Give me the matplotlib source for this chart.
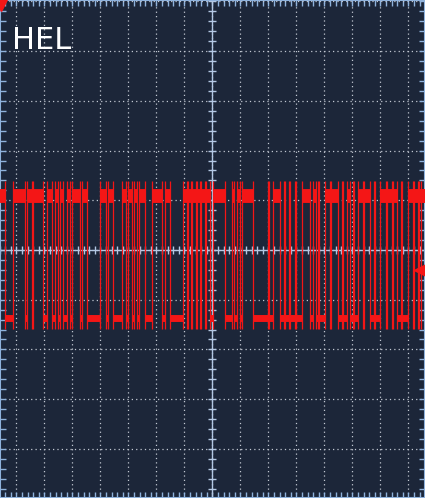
import numpy as np
import matplotlib
matplotlib.use("Agg")
import matplotlib.pyplot as plt
from matplotlib.ticker import MultipleLocator, NullFormatter

# trace: edge times (sample units, 28 per division, centre at 212.5) and state after edge
edge_times = [0, 5, 13, 25, 27, 32, 33, 43, 47, 52, 55, 58, 60, 63, 67, 70, 72, 80, 82, 87,
              100, 106, 108, 113, 122, 126, 128, 132, 134, 137, 139, 145, 152, 162, 165, 170,
              183, 187, 188, 191, 192, 196, 197, 200, 201, 205, 206, 210,
              213, 225, 232, 234, 237, 240, 242, 253, 268, 269, 273, 280, 284, 285, 289, 290,
              295, 296, 302, 310, 313, 316,
              318, 319, 325, 330, 331, 338, 342, 343, 347, 350, 353, 354, 358, 363, 364, 370,
              374, 375, 380, 386, 387, 392, 393, 397, 401, 402, 408, 413, 414, 418, 419, 421]
edge_states = [1, 0, 1, 0, 1, 0, 1, 0, 1, 0, 1, 0, 1, 0, 1, 0, 1, 0, 1, 0,
               1, 0, 1, 0, 1, 0, 1, 0, 1, 0, 1, 0, 1, 0, 1, 0,
               1, 0, 1, 0, 1, 0, 1, 0, 1, 0, 1, 0,
               1, 0, 1, 0, 1, 0, 1, 0, 1, 0, 1, 0, 1, 0, 1, 0,
               1, 0, 1, 0, 1, 0,
               1, 0, 1, 0, 1, 0, 1, 0, 1, 0, 1, 0, 1, 0, 1, 0,
               1, 0, 1, 0, 1, 0, 1, 0, 1, 0, 1, 0, 1, 0, 1, 1]
t_end = 425

high_level = 1.09     # divisions
low_level = -1.36
spike_top = 1.38
spike_bottom = -1.59
marker_level = -0.40  # channel level marker on the right

label = "HEL"

bg = "#1c2639"
red = "#f41616"
frame = "#8fb2dc"
grid_c = "#c2c8d2"

fig = plt.figure(figsize=(4.25, 4.98), dpi=100)
fig.patch.set_facecolor(bg)
ax = fig.add_axes([0, 0, 1, 1])
ax.set_facecolor(bg)
ax.set_xlim(0, 425)
ax.set_ylim(-4.99, 5.03)

# grid
ax.xaxis.set_major_locator(MultipleLocator(28, offset=212.5 % 28))
ax.yaxis.set_major_locator(MultipleLocator(1))
ax.xaxis.set_minor_locator(MultipleLocator(28 / 5, offset=212.5 % (28 / 5)))
ax.yaxis.set_minor_locator(MultipleLocator(0.2))
ax.grid(which="major", color=grid_c, linestyle=(0, (1, 2.5)), linewidth=0.9)
ax.tick_params(which="both", direction="in", colors=frame, length=4, width=1,
               top=True, right=True, bottom=True, left=True)
ax.xaxis.set_major_formatter(NullFormatter())
ax.yaxis.set_major_formatter(NullFormatter())
for s in ax.spines.values():
    s.set_color(frame)
    s.set_linewidth(1.5)

# centre crosshair with small ticks
ax.axvline(212.5, color="#b4c8e4", lw=1, zorder=2)
ax.axhline(0, color="#b4c8e4", lw=1, zorder=2)
hx = 212.5 + np.arange(-38, 39) * 28 / 5
ax.plot(hx, np.zeros_like(hx), ls="none", marker="|", ms=6, mew=1, color="#b4c8e4", zorder=2)
vy = np.arange(-25, 26) * 0.2
ax.plot(np.full_like(vy, 212.5), vy, ls="none", marker="_", ms=6, mew=1, color="#b4c8e4", zorder=2)

# trace
starts = np.array(edge_times)
ends = np.append(starts[1:], t_end)
states = np.array(edge_states)
levels = np.where(states == 1, high_level, low_level)
hi = states == 1
ax.hlines(levels[hi], starts[hi], ends[hi], color=red, lw=10, zorder=4)
ax.hlines(levels[~hi], starts[~hi], ends[~hi], color=red, lw=5, zorder=4)
ax.vlines(starts[1:], spike_bottom, spike_top, color=red, lw=0.9, zorder=4)

# markers
ax.plot([1.5], [4.93], marker="v", ms=8, color=red, ls="none", zorder=5, clip_on=True)
ax.plot([420], [marker_level], marker="<", ms=9, color=red, ls="none", zorder=5, clip_on=False)

fig.text(12 / 425, 1 - 49 / 498, label, color="white", fontsize=22, va="baseline", ha="left")

fig.savefig("out.png", dpi=100, facecolor=bg)
